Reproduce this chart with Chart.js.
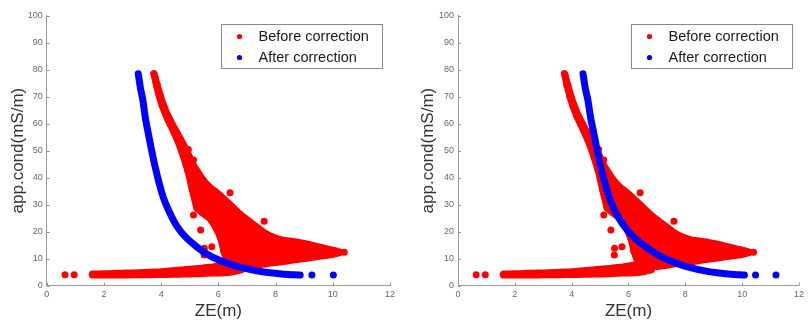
<!DOCTYPE html>
<html>
<head>
<meta charset="utf-8">
<script src="https://cdn.jsdelivr.net/npm/chart.js@4.4.1/dist/chart.umd.min.js"></script>
<style>
  html, body { margin: 0; padding: 0; background: #fff; }
  #wrap { position: relative; width: 808px; height: 322px; }
  .panel { position: absolute; top: 0; width: 404px; height: 322px; }
</style>
</head>
<body>
<div id="wrap">
  <div class="panel" style="left:0"><canvas id="chartLeft" width="404" height="322"></canvas></div>
  <div class="panel" style="left:404px"><canvas id="chartRight" width="404" height="322"></canvas></div>
</div>
<script>
// ---- data (ZE in m, apparent conductivity in mS/m) ----
const xTicks = [0, 2, 4, 6, 8, 10, 12];
const yTicks = [0, 10, 20, 30, 40, 50, 60, 70, 80, 90, 100];
const seriesNames = ['Before correction', 'After correction'];

// dense red cloud (before correction): vertical extent of the points at each ZE
const cloudX    = [3.75, 3.85, 3.95, 4.05, 4.2, 4.35, 4.5, 4.65, 4.8, 4.95,
                   5.1, 5.25, 5.4, 5.55, 5.7, 5.85, 6.0, 6.1, 6.2, 6.3,
                   6.45, 6.6, 6.8, 7.0, 7.2, 7.4, 7.6, 7.8, 8.0, 8.2,
                   8.4, 8.6, 8.8, 9.0, 9.2, 9.4, 9.6, 9.8, 10.0, 10.15, 10.25];
const cloudLow  = [78.5, 73.6, 69.6, 66.3, 62.3, 59.0, 55.6, 51.8, 47.2, 42.0,
                   35.0, 28.6, 27.3, 26.1, 25.0, 22.6, 19.7, 16.9, 12.3, 9.6,
                   8.6, 7.5, 7.1, 7.0, 7.3, 7.6, 8.0, 8.3, 8.5, 8.8,
                   9.1, 9.4, 9.7, 10.0, 10.3, 10.6, 10.9, 11.2, 11.5, 11.9, 12.3];
const cloudHigh = [78.5, 74.8, 71.0, 67.7, 63.7, 60.6, 57.6, 54.8, 51.8, 48.6,
                   45.0, 42.6, 40.1, 38.0, 36.4, 35.2, 33.9, 33.0, 32.0, 31.0,
                   29.5, 28.0, 26.0, 24.4, 22.8, 21.2, 19.6, 18.4, 17.6, 16.9,
                   16.6, 16.3, 16.0, 15.6, 15.1, 14.6, 14.1, 13.6, 13.1, 12.7, 12.3];

// flat red band near the bottom: vertical extent at each ZE
const bandX    = [1.6, 1.8, 2.0, 2.2, 2.4, 2.6, 2.8, 3.0, 3.2, 3.4, 3.6, 3.8, 4.0, 4.2,
                  4.4, 4.6, 4.8, 5.0, 5.2, 5.4, 5.6, 5.8, 6.0, 6.2, 6.4, 6.6, 6.8];
const bandLow  = [3.9, 3.9, 3.9, 3.9, 3.9, 3.9, 3.9, 4.0, 4.0, 4.0, 4.0, 4.1, 4.1, 4.1,
                  4.2, 4.2, 4.3, 4.3, 4.4, 4.4, 4.5, 4.6, 4.6, 4.7, 4.9, 5.3, 5.8];
const bandHigh = [4.3, 4.3, 4.4, 4.4, 4.5, 4.5, 4.6, 4.6, 4.7, 4.8, 4.9, 5.0, 5.1, 5.3,
                  5.5, 5.7, 5.8, 6.0, 6.2, 6.4, 6.7, 6.9, 7.2, 7.6, 8.0, 8.2, 8.4];

// scattered red points off the main cloud
const redDots = [
  [0.64, 4.0], [0.96, 4.0], [4.55, 56.6], [4.95, 50.4], [5.13, 46.5], [6.41, 34.4],
  [5.13, 26.1], [5.38, 20.6], [5.77, 14.4], [5.51, 13.8], [5.5, 11.3], [7.60, 23.8],
  [10.40, 12.3]
];

// blue (after correction), left panel
const blueLeft = [
  [3.20, 78.5], [3.28, 73.0], [3.36, 68.8], [3.45, 62.0], [3.55, 56.4], [3.67, 50.0],
  [3.79, 44.0], [3.93, 38.0], [4.08, 32.5], [4.30, 27.0], [4.55, 22.0], [4.85, 18.0],
  [5.24, 14.4], [5.60, 11.7], [5.94, 9.8], [6.40, 7.9], [6.87, 6.5], [7.30, 5.5],
  [7.81, 4.7], [8.30, 4.2], [8.86, 3.9]
];
const blueLeftDots = [[9.27, 3.9], [10.02, 3.9]];

// blue (after correction), right panel
const blueRight = [
  [4.40, 78.5], [4.48, 73.0], [4.57, 68.8], [4.67, 62.0], [4.78, 56.4], [4.90, 50.0],
  [5.02, 44.0], [5.17, 38.0], [5.33, 32.5], [5.55, 27.0], [5.85, 22.0], [6.18, 18.0],
  [6.60, 14.4], [6.98, 11.7], [7.33, 9.8], [7.78, 7.9], [8.22, 6.5], [8.64, 5.5],
  [9.12, 4.7], [9.60, 4.2], [10.08, 3.9]
];
const blueRightDots = [[10.47, 3.9], [11.19, 3.9]];

// ---- drawing ----
const RED = '#ff0000', BLUE = '#0000ff', AXIS = '#9a9a9a';
const FONT = "'Liberation Sans', Arial, sans-serif";
const pts = arr => arr.map(([x, y]) => ({ x, y }));
const zip = (xs, ys) => xs.map((x, i) => ({ x, y: ys[i] }));
const spans = (xs, lo, hi) => xs.map((x, i) => ({ x, y: [lo[i], hi[i]] }));

// small tick marks pointing into the plot, like the original figure
const innerTicks = {
  id: 'innerTicks',
  afterDraw(chart) {
    const { ctx, chartArea: a, scales: { x, y } } = chart;
    ctx.save();
    ctx.strokeStyle = AXIS;
    ctx.lineWidth = 1;
    ctx.beginPath();
    xTicks.forEach(v => {
      const px = Math.round(x.getPixelForValue(v)) + 0.5;
      ctx.moveTo(px, a.bottom); ctx.lineTo(px, a.bottom - 3);
    });
    yTicks.forEach(v => {
      const py = Math.round(y.getPixelForValue(v)) + 0.5;
      ctx.moveTo(a.left, py); ctx.lineTo(a.left + 3, py);
    });
    ctx.stroke();
    ctx.restore();
  }
};

// boxed legend in the upper right corner
const boxLegend = {
  id: 'boxLegend',
  afterDraw(chart, args, opts) {
    const { ctx, chartArea: a } = chart;
    const w = 161, h = 44;
    const x0 = Math.round(a.right - opts.inset - w), y0 = Math.round(a.top + 8);
    ctx.save();
    ctx.fillStyle = '#fff';
    ctx.fillRect(x0, y0, w, h);
    ctx.strokeStyle = '#8a8a8a';
    ctx.lineWidth = 1;
    ctx.strokeRect(x0 + 0.5, y0 + 0.5, w, h);
    ctx.font = '14.5px ' + FONT;
    ctx.textBaseline = 'middle';
    [RED, BLUE].forEach((c, i) => {
      const cy = y0 + 12.5 + i * 21;
      ctx.fillStyle = c;
      ctx.beginPath();
      ctx.arc(x0 + 18.5, cy, 2.6, 0, Math.PI * 2);
      ctx.fill();
      ctx.fillStyle = '#1a1a1a';
      ctx.fillText(seriesNames[i], x0 + 37.5, cy + 0.5);
    });
    ctx.restore();
  }
};

function makeChart(id, blueLine, blueDots, g) {
  // thick edge lines give the round outline of the dot mass, floating bars fill it
  const edge = data => ({
    label: seriesNames[0], data, showLine: true, borderColor: RED, backgroundColor: RED,
    borderWidth: 7, borderJoinStyle: 'round', borderCapStyle: 'round', pointRadius: 0, tension: 0, order: 2
  });
  const fillBars = data => ({
    type: 'bar', label: seriesNames[0], data, backgroundColor: RED, borderWidth: 0,
    barThickness: 7, grouped: false, order: 2
  });
  return new Chart(document.getElementById(id), {
    type: 'scatter',
    data: {
      datasets: [
        fillBars(spans(cloudX, cloudLow, cloudHigh)),
        edge(zip(cloudX, cloudHigh)),
        edge(zip(cloudX, cloudLow)),
        fillBars(spans(bandX, bandLow, bandHigh)),
        edge(zip(bandX, bandHigh)),
        edge(zip(bandX, bandLow)),
        { label: seriesNames[0], data: pts(redDots), backgroundColor: RED, borderWidth: 0, pointRadius: 3.5, order: 2 },
        { label: seriesNames[1], data: pts(blueLine), showLine: true, borderColor: BLUE, backgroundColor: BLUE,
          borderWidth: 7, borderJoinStyle: 'round', borderCapStyle: 'round', tension: 0.3,
          pointRadius: 0, order: 1 },
        { label: seriesNames[1], data: pts(blueDots), backgroundColor: BLUE, borderWidth: 0, pointRadius: 3.5, order: 1 }
      ]
    },
    options: {
      responsive: false,
      animation: false,
      events: [],
      layout: { padding: { left: 0, top: 15.7, right: g.right, bottom: 0 } },
      scales: {
        x: {
          type: 'linear', min: 0, max: 12, offset: false,
          afterBuildTicks: s => { s.ticks = xTicks.map(v => ({ value: v })); },
          afterFit: s => { s.height = 36.5; },
          grid: { display: false, drawTicks: false, tickLength: 0 },
          border: { display: true, color: AXIS, width: 1 },
          ticks: { color: '#666', font: { family: FONT, size: 9 }, padding: 4, maxRotation: 0 },
          title: { display: true, text: 'ZE(m)', color: '#333', font: { family: FONT, size: 17, lineHeight: 1.2 },
                   padding: { top: 0, bottom: 0 } }
        },
        y: {
          type: 'linear', min: 0, max: 100,
          afterBuildTicks: s => { s.ticks = yTicks.map(v => ({ value: v })); },
          afterFit: s => { s.width = g.left; },
          grid: { display: false, drawTicks: false, tickLength: 0 },
          border: { display: true, color: AXIS, width: 1 },
          ticks: { color: '#666', font: { family: FONT, size: 9 }, padding: 4 },
          title: { display: true, text: 'app.cond(mS/m)', color: '#333', font: { family: FONT, size: 17, lineHeight: 1.2 },
                   padding: { top: g.titlePad, bottom: 0 } }
        }
      },
      plugins: {
        legend: { display: false },
        tooltip: { enabled: false },
        boxLegend: { inset: g.inset }
      }
    },
    plugins: [innerTicks, boxLegend]
  });
}

makeChart('chartLeft', blueLeft, blueLeftDots, { left: 46.7, right: 14, titlePad: 8.3, inset: 8 });
makeChart('chartRight', blueRight, blueRightDots, { left: 54, right: 8.3, titlePad: 13.8, inset: 7 });
</script>
</body>
</html>
